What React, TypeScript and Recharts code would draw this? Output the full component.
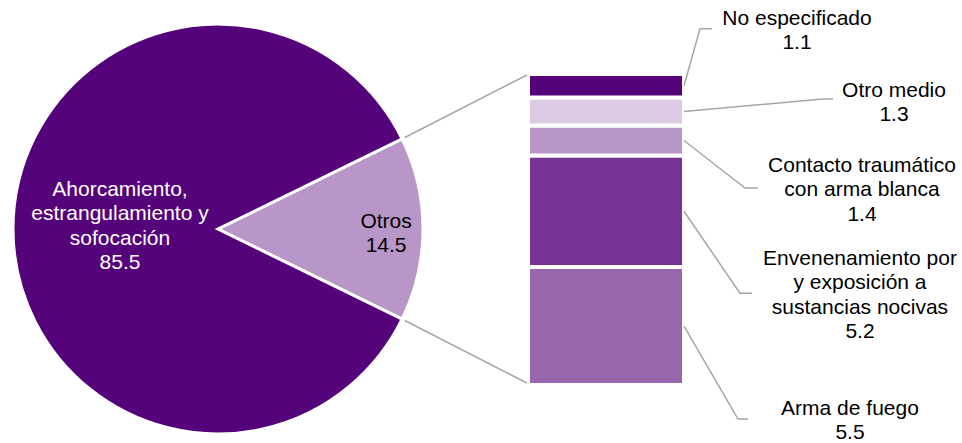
import { PieChart, Pie, Cell, BarChart, Bar, XAxis, YAxis } from "recharts";

const pieNames = ["Otros", "Ahorcamiento, estrangulamiento y sofocación"];
const pieValues = [14.5, 85.5];
const pieLabelLines = [["Otros"], ["Ahorcamiento,", "estrangulamiento y", "sofocación"]];

// stacked from the bottom up
const barNames = [
  "Arma de fuego",
  "Envenenamiento por y exposición a sustancias nocivas",
  "Contacto traumático con arma blanca",
  "Otro medio",
  "No especificado",
];
const barValues = [5.5, 5.2, 1.4, 1.3, 1.1];
const barLabelLines = [
  ["Arma de fuego"],
  ["Envenenamiento por", "y exposición a", "sustancias nocivas"],
  ["Contacto traumático", "con arma blanca"],
  ["Otro medio"],
  ["No especificado"],
];

const W = 962;
const H = 443;
const FONT = "'Liberation Sans', Arial, sans-serif";
const FONT_SIZE = 21;
const LINE_H = 24.3;
const LEADER = "#a6a6a6";

const PIE_CX = 218;
const PIE_CY = 229;
const PIE_R = 205;
const pieColors = ["#b996c8", "#55037a"];
const pieTextColors = ["#000000", "#ffffff"];
// label position as fraction of radius, and vertical shift
const pieLabelPos = [
  { r: 0.82, dy: -1 },
  { r: 0.478, dy: -33 },
];

const BAR_LEFT = 528;
const BAR_RIGHT = 684;
const BAR_TOP = 74;
const BAR_BOTTOM = 385;
const barColors = ["#9867ae", "#763394", "#b996c8", "#dccae5", "#55037a"];
// leader line elbow / end and text position, relative to segment right-middle
const barLabelPos = [
  { ex: 54, ey: 93, hx: 64, tx: 166, ty: 89 },
  { ex: 56, ey: 82, hx: 68, tx: 176, ty: 53.7 },
  { ex: 61, ey: 47.5, hx: 74, tx: 178, ty: 31.5 },
  { ex: 139, ey: -12.5, hx: 149, tx: 210, ty: -14.5 },
  { ex: 16, ey: -57, hx: 28, tx: 113, ty: -60.8 },
];

const pieData = pieNames.map((name, i) => ({ name, value: pieValues[i] }));
const barRow: Record<string, number | string> = { name: "Otros" };
barNames.forEach((_, i) => {
  barRow["s" + i] = barValues[i];
});
const barData = [barRow];

const pieTotal = pieValues.reduce((a, b) => a + b, 0);
const halfAngle = (pieValues[0] / pieTotal) * 180;
const RAD = Math.PI / 180;

function renderPieLabel(props: any) {
  const { cx, cy, midAngle, outerRadius, index } = props;
  const pos = pieLabelPos[index];
  const x = cx + outerRadius * pos.r * Math.cos(-midAngle * RAD);
  const y = cy + pos.dy;
  const lines = [...pieLabelLines[index], pieValues[index].toFixed(1)];
  return (
    <text
      key={"pl" + index}
      x={x}
      y={y}
      textAnchor="middle"
      fill={pieTextColors[index]}
      fontFamily={FONT}
      fontSize={FONT_SIZE}
    >
      {lines.map((l, j) => (
        <tspan key={j} x={x} y={y + j * LINE_H}>
          {l}
        </tspan>
      ))}
    </text>
  );
}

function makeBarLabel(i: number) {
  return (props: any) => {
    const x = Number(props.x) + Number(props.width);
    const y = Number(props.y) + Number(props.height) / 2;
    const p = barLabelPos[i];
    const lines = [...barLabelLines[i], barValues[i].toFixed(1)];
    const tx = x + p.tx;
    const ty = y + p.ty;
    return (
      <g key={"bl" + i}>
        <polyline
          points={`${x},${y} ${x + p.ex},${y + p.ey} ${x + p.hx},${y + p.ey}`}
          fill="none"
          stroke={LEADER}
          strokeWidth={1.5}
        />
        <text textAnchor="middle" fill="#000" fontFamily={FONT} fontSize={FONT_SIZE}>
          {lines.map((l, j) => (
            <tspan key={j} x={tx} y={ty + j * LINE_H}>
              {l}
            </tspan>
          ))}
        </text>
      </g>
    );
  };
}

export default function App() {
  const edgeX = PIE_CX + (PIE_R + 3) * Math.cos(halfAngle * RAD);
  const edgeDy = (PIE_R + 3) * Math.sin(halfAngle * RAD);
  return (
    <div style={{ position: "absolute", left: 0, top: 0, width: W, height: H, background: "#fff" }}>
      <div style={{ position: "absolute", left: 0, top: 0 }}>
        <PieChart width={W} height={H} margin={{ top: 0, right: 0, bottom: 0, left: 0 }}>
          <Pie
            data={pieData}
            dataKey="value"
            cx={PIE_CX}
            cy={PIE_CY}
            outerRadius={PIE_R}
            startAngle={halfAngle}
            endAngle={halfAngle - 360}
            stroke="#fff"
            strokeWidth={3}
            label={renderPieLabel}
            labelLine={false}
            isAnimationActive={false}
          >
            {pieData.map((_, i) => (
              <Cell key={i} fill={pieColors[i]} />
            ))}
          </Pie>
        </PieChart>
      </div>
      <div style={{ position: "absolute", left: 0, top: 0 }}>
        <BarChart
          width={W}
          height={H}
          data={barData}
          barCategoryGap={0}
          margin={{ left: BAR_LEFT, right: W - BAR_RIGHT, top: BAR_TOP, bottom: H - BAR_BOTTOM }}
        >
          <XAxis dataKey="name" hide />
          <YAxis hide domain={[0, pieValues[0]]} />
          {barNames.map((n, i) => (
            <Bar
              key={n}
              dataKey={"s" + i}
              name={n}
              stackId="otros"
              fill={barColors[i]}
              stroke="#fff"
              strokeWidth={4}
              label={makeBarLabel(i)}
              isAnimationActive={false}
            />
          ))}
        </BarChart>
      </div>
      <svg width={W} height={H} style={{ position: "absolute", left: 0, top: 0, pointerEvents: "none" }}>
        <line x1={edgeX} y1={PIE_CY - edgeDy} x2={BAR_LEFT - 1} y2={BAR_TOP + 1} stroke={LEADER} strokeWidth={1.5} />
        <line x1={edgeX} y1={PIE_CY + edgeDy} x2={BAR_LEFT - 1} y2={BAR_BOTTOM - 2} stroke={LEADER} strokeWidth={1.5} />
      </svg>
    </div>
  );
}
